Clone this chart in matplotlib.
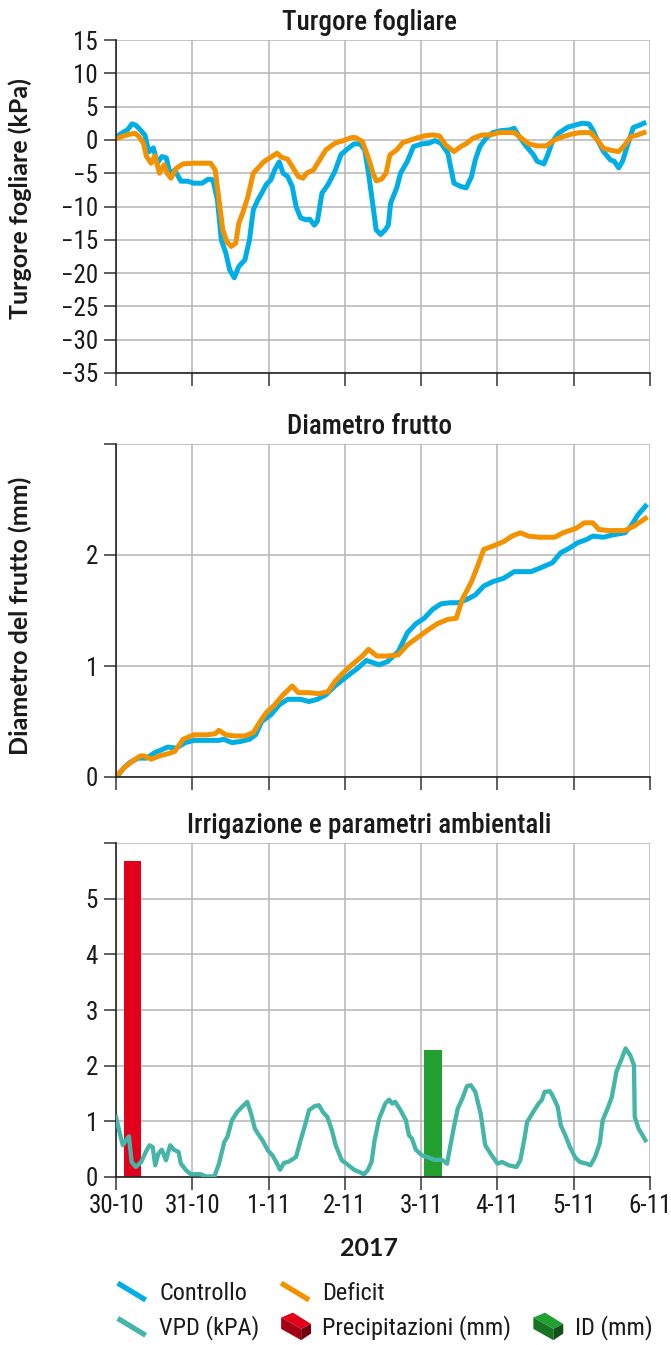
import os
import numpy as np
import matplotlib
matplotlib.use('Agg')
from matplotlib import pyplot as plt
from matplotlib import font_manager as fm
from matplotlib.lines import Line2D
from matplotlib.patches import Patch, Polygon
from matplotlib.legend_handler import HandlerBase

# ---- data (x in days from 30-10 00:00) ----
turg_ctrl_x = [0.01, 0.10, 0.15, 0.21, 0.26, 0.32, 0.38, 0.43, 0.49, 0.54,
               0.60, 0.66, 0.71, 0.77, 0.85, 0.94, 1.02, 1.13, 1.21, 1.27,
               1.33, 1.38, 1.44, 1.49, 1.55, 1.61, 1.69, 1.75, 1.80, 1.86,
               1.91, 1.97, 2.03, 2.08, 2.14, 2.19, 2.25, 2.31, 2.36, 2.42,
               2.49, 2.54, 2.60, 2.64, 2.70, 2.78, 2.87, 2.95, 3.03, 3.12,
               3.20, 3.26, 3.31, 3.37, 3.41, 3.47, 3.53, 3.57, 3.60, 3.68,
               3.73, 3.82, 3.90, 4.01, 4.10, 4.18, 4.26, 4.35, 4.43, 4.52,
               4.59, 4.66, 4.71, 4.77, 4.85, 4.94, 5.05, 5.16, 5.22, 5.30,
               5.38, 5.47, 5.52, 5.61, 5.66, 5.72, 5.80, 5.92, 6.03, 6.11,
               6.20, 6.25, 6.31, 6.39, 6.48, 6.53, 6.59, 6.64, 6.70, 6.78,
               6.87, 6.92]
turg_ctrl_y = [0.5, 1.2, 1.5, 2.4, 2.2, 1.5, 0.7, -1.8, -1.2, -3.5,
               -2.5, -2.7, -5.2, -4.5, -6.2, -6.2, -6.5, -6.5, -5.9, -6.0,
               -9.0, -15.0, -17.0, -19.5, -20.7, -19.0, -18.0, -15.0, -10.5, -9.0,
               -8.0, -6.7, -6.0, -4.5, -3.3, -5.0, -5.5, -7.0, -10.0, -11.7,
               -12.0, -11.9, -12.8, -12.2, -8.0, -6.7, -4.7, -2.2, -1.4, -0.6,
               -0.6, -1.5, -5.0, -10.0, -13.5, -14.2, -13.5, -12.8, -9.5, -7.2,
               -5.0, -3.2, -1.0, -0.6, -0.5, -0.1, -0.5, -2.0, -6.5, -7.0,
               -7.2, -5.5, -3.0, -1.0, 0.25, 1.1, 1.4, 1.5, 1.75, 0.25,
               -1.0, -2.2, -3.2, -3.6, -2.2, -0.25, 1.0, 1.9, 2.25, 2.5,
               2.4, 1.5, 0.0, -1.75, -3.0, -3.2, -4.2, -3.2, -1.0, 1.85,
               2.25, 2.5]
turg_def_x = [0.02, 0.10, 0.18, 0.25, 0.30, 0.36, 0.40, 0.46, 0.51, 0.57,
              0.63, 0.67, 0.72, 0.79, 0.88, 1.02, 1.13, 1.24, 1.30, 1.35,
              1.40, 1.45, 1.51, 1.57, 1.61, 1.66, 1.73, 1.80, 1.86, 1.94,
              2.03, 2.11, 2.17, 2.25, 2.31, 2.39, 2.45, 2.50, 2.59, 2.67,
              2.75, 2.87, 2.98, 3.09, 3.14, 3.23, 3.31, 3.37, 3.41, 3.48,
              3.54, 3.59, 3.68, 3.76, 3.87, 3.96, 4.04, 4.15, 4.24, 4.32,
              4.43, 4.52, 4.60, 4.68, 4.80, 4.91, 5.02, 5.22, 5.30, 5.41,
              5.52, 5.64, 5.75, 5.86, 5.97, 6.08, 6.22, 6.31, 6.39, 6.50,
              6.59, 6.67, 6.75, 6.84, 6.92]
turg_def_y = [0.25, 0.6, 0.85, 1.0, 0.5, -0.5, -2.5, -3.5, -2.4, -5.0,
              -3.75, -5.0, -5.75, -4.25, -3.6, -3.5, -3.5, -3.5, -4.5, -9.0,
              -13.5, -15.25, -16.0, -15.5, -12.5, -11.0, -8.5, -5.0, -4.25, -3.25,
              -2.6, -2.0, -2.6, -2.9, -4.0, -5.5, -5.75, -5.0, -4.5, -3.0,
              -1.5, -0.5, -0.1, 0.35, 0.35, -0.25, -2.75, -5.0, -6.15, -5.9,
              -5.0, -2.25, -1.5, -0.4, 0.0, 0.35, 0.6, 0.75, 0.6, -0.75,
              -1.75, -1.0, -0.5, 0.25, 0.75, 0.75, 1.1, 1.1, 0.4, -0.6,
              -0.9, -0.9, 0.0, 0.5, 0.85, 1.1, 1.1, 0.0, -1.25, -1.6,
              -1.75, -0.75, 0.5, 0.75, 1.1]

diam_ctrl_x = [0.01, 0.10, 0.18, 0.29, 0.40, 0.51, 0.68, 0.79, 0.91, 1.02,
               1.19, 1.35, 1.41, 1.52, 1.63, 1.75, 1.83, 1.91, 2.03, 2.14,
               2.25, 2.42, 2.53, 2.64, 2.75, 2.87, 2.98, 3.09, 3.17, 3.28,
               3.37, 3.45, 3.56, 3.70, 3.82, 3.93, 4.04, 4.15, 4.26, 4.38,
               4.49, 4.60, 4.71, 4.82, 4.94, 5.08, 5.22, 5.44, 5.55, 5.72,
               5.83, 5.94, 6.05, 6.17, 6.25, 6.39, 6.50, 6.67, 6.75, 6.84,
               6.94]
diam_ctrl_y = [0.0, 0.08, 0.13, 0.17, 0.17, 0.22, 0.27, 0.26, 0.31, 0.33,
               0.33, 0.33, 0.34, 0.31, 0.32, 0.34, 0.38, 0.50, 0.56, 0.65,
               0.70, 0.70, 0.68, 0.70, 0.74, 0.82, 0.88, 0.94, 0.98, 1.05,
               1.03, 1.01, 1.04, 1.13, 1.30, 1.38, 1.43, 1.51, 1.56, 1.57,
               1.57, 1.60, 1.64, 1.72, 1.76, 1.79, 1.85, 1.85, 1.88, 1.93,
               2.02, 2.06, 2.11, 2.14, 2.17, 2.16, 2.18, 2.20, 2.26, 2.36,
               2.44]
diam_def_x = [0.01, 0.10, 0.21, 0.32, 0.37, 0.46, 0.57, 0.68, 0.77, 0.88,
              1.02, 1.19, 1.30, 1.35, 1.44, 1.55, 1.69, 1.80, 1.89, 1.97,
              2.08, 2.19, 2.31, 2.39, 2.53, 2.67, 2.78, 2.87, 2.98, 3.09,
              3.23, 3.31, 3.42, 3.56, 3.70, 3.82, 3.96, 4.10, 4.21, 4.35,
              4.46, 4.54, 4.66, 4.74, 4.82, 4.94, 5.08, 5.19, 5.30, 5.41,
              5.55, 5.75, 5.86, 6.03, 6.14, 6.25, 6.33, 6.45, 6.67, 6.79,
              6.94]
diam_def_y = [0.01, 0.08, 0.14, 0.19, 0.19, 0.16, 0.19, 0.21, 0.23, 0.34,
              0.38, 0.38, 0.39, 0.42, 0.38, 0.37, 0.37, 0.40, 0.50, 0.58,
              0.65, 0.74, 0.82, 0.76, 0.76, 0.75, 0.77, 0.86, 0.94, 1.01,
              1.09, 1.15, 1.09, 1.09, 1.10, 1.19, 1.26, 1.33, 1.38, 1.42,
              1.43, 1.60, 1.76, 1.90, 2.05, 2.08, 2.12, 2.17, 2.20, 2.17,
              2.16, 2.16, 2.20, 2.24, 2.29, 2.29, 2.23, 2.22, 2.22, 2.26,
              2.33]

vpd_x = [0.0, 0.04, 0.09, 0.13, 0.17, 0.205, 0.26, 0.33, 0.39, 0.44,
         0.48, 0.515, 0.555, 0.60, 0.655, 0.71, 0.76, 0.82, 0.85, 0.92,
         0.98, 1.11, 1.18, 1.29, 1.35, 1.42, 1.46, 1.52, 1.59, 1.66,
         1.72, 1.77, 1.82, 1.86, 1.92, 1.99, 2.05, 2.10, 2.15, 2.20,
         2.27, 2.36, 2.42, 2.49, 2.53, 2.60, 2.66, 2.71, 2.77, 2.83,
         2.88, 2.96, 3.03, 3.12, 3.19, 3.25, 3.30, 3.35, 3.39, 3.45,
         3.53, 3.58, 3.62, 3.66, 3.73, 3.80, 3.84, 3.88, 3.93, 4.01,
         4.08, 4.17, 4.27, 4.34, 4.38, 4.43, 4.48, 4.54, 4.60, 4.65,
         4.71, 4.78, 4.84, 4.91, 5.00, 5.06, 5.15, 5.25, 5.30, 5.35,
         5.39, 5.47, 5.54, 5.58, 5.62, 5.69, 5.73, 5.79, 5.83, 5.89,
         5.95, 6.02, 6.08, 6.17, 6.22, 6.28, 6.34, 6.38, 6.45, 6.50,
         6.56, 6.63, 6.68, 6.74, 6.79, 6.80, 6.85, 6.89, 6.94]
vpd_y = [1.08, 0.84, 0.57, 0.66, 0.73, 0.27, 0.18, 0.27, 0.45, 0.57,
         0.54, 0.21, 0.42, 0.49, 0.30, 0.57, 0.49, 0.45, 0.24, 0.12,
         0.05, 0.05, 0.01, 0.01, 0.24, 0.63, 0.72, 1.02, 1.17, 1.27,
         1.35, 1.14, 0.87, 0.78, 0.66, 0.48, 0.39, 0.27, 0.13, 0.25,
         0.28, 0.36, 0.66, 0.99, 1.20, 1.27, 1.29, 1.17, 1.08, 0.84,
         0.57, 0.30, 0.23, 0.13, 0.09, 0.05, 0.12, 0.27, 0.66, 1.05,
         1.32, 1.39, 1.32, 1.35, 1.20, 1.02, 0.75, 0.69, 0.49, 0.39,
         0.36, 0.31, 0.31, 0.24, 0.54, 0.90, 1.23, 1.41, 1.63, 1.65,
         1.53, 1.14, 0.57, 0.42, 0.24, 0.27, 0.21, 0.18, 0.30, 0.66,
         0.99, 1.17, 1.32, 1.38, 1.53, 1.54, 1.44, 1.26, 0.93, 0.75,
         0.54, 0.35, 0.27, 0.24, 0.21, 0.36, 0.60, 1.02, 1.25, 1.44,
         1.89, 2.13, 2.31, 2.19, 2.01, 1.08, 0.87, 0.78, 0.66]

rain_x = [0.215]
rain_mm = [5.68]
id_x = [4.155]
id_mm = [2.28]

day_labels = ['30-10', '31-10', '1-11', '2-11', '3-11', '4-11', '5-11', '6-11']

C_CTRL = '#00aee6'
C_DEF = '#f39200'
C_VPD = '#45b5a8'
C_RAIN = '#e2001a'
C_ID = '#22a030'
TXT = '#1a1a1a'


def font_file(names):
    files = {}
    for f in fm.fontManager.ttflist:
        files[os.path.basename(f.fname).lower()] = f.fname
    for n in names:
        if n.lower() in files:
            return files[n.lower()]
    return None


reg_path = font_file(['RobotoCondensed-Regular.ttf', 'NotoSans-Condensed.ttf',
                      'LiberationSansNarrow-Regular.ttf', 'DejaVuSansCondensed.ttf'])
bold_path = font_file(['RobotoCondensed-Medium.ttf', 'RobotoCondensed-SemiBold.ttf',
                       'RobotoCondensed-Bold.ttf', 'NotoSans-CondensedSemiBold.ttf',
                       'LiberationSansNarrow-Bold.ttf', 'DejaVuSansCondensed-Bold.ttf'])


def narrow(size, bold=False):
    p = bold_path if bold else reg_path
    if p:
        return fm.FontProperties(fname=p, size=size)
    return fm.FontProperties(family='DejaVu Sans', size=size * 0.88,
                             weight='bold' if bold else 'normal')


TICK_FP = narrow(18)
TITLE_FP = narrow(19.5, bold=True)
LEG_FP = narrow(17.5)
LAB_FP = fm.FontProperties(family=['Lato', 'DejaVu Sans'], weight='bold', size=18)


class DiagLineHandler(HandlerBase):
    def create_artists(self, legend, orig_handle, xdescent, ydescent,
                       width, height, fontsize, trans):
        ln = Line2D([-xdescent, -xdescent + width],
                    [-ydescent + height * 0.95, -ydescent + height * 0.0],
                    color=orig_handle.get_color(), lw=3.8,
                    solid_capstyle='butt', transform=trans)
        return [ln]


class BoxHandler(HandlerBase):
    # small isometric block like the reference icons
    def create_artists(self, legend, orig_handle, xdescent, ydescent,
                       width, height, fontsize, trans):
        c = np.array(matplotlib.colors.to_rgb(orig_handle.get_facecolor()))
        w, h = width * 1.07, height * 1.55
        x0 = -xdescent
        y0 = -ydescent - 0.275 * height
        top = [(x0, y0 + 0.82 * h), (x0 + 0.39 * w, y0 + 1.0 * h),
               (x0 + w, y0 + 0.59 * h), (x0 + 0.67 * w, y0 + 0.41 * h)]
        left = [(x0, y0 + 0.82 * h), (x0 + 0.67 * w, y0 + 0.41 * h),
                (x0 + 0.67 * w, y0), (x0, y0 + 0.41 * h)]
        right = [(x0 + 0.67 * w, y0 + 0.41 * h), (x0 + w, y0 + 0.59 * h),
                 (x0 + w, y0 + 0.24 * h), (x0 + 0.67 * w, y0)]
        arts = []
        for pts, k in [(top, 1.0), (left, 0.72), (right, 0.5)]:
            arts.append(Polygon(pts, closed=True, facecolor=c * k,
                                edgecolor='none', transform=trans))
        return arts


class BlankHandler(HandlerBase):
    def create_artists(self, legend, orig_handle, xdescent, ydescent,
                       width, height, fontsize, trans):
        return [Line2D([], [], transform=trans, visible=False)]


def style_axes(ax, ymin, ymax, yticks, ylabels, title):
    ax.set_xlim(0, 7)
    ax.set_ylim(ymin, ymax)
    ax.set_xticks(range(8))
    ax.set_yticks(yticks)
    ax.set_yticklabels(ylabels, color=TXT)
    for t in ax.get_yticklabels():
        t.set_fontproperties(TICK_FP)
    ax.grid(True, color='#b5b5b5', lw=1.1)
    ax.set_axisbelow(True)
    for s in ['top', 'right']:
        ax.spines[s].set_visible(False)
    for s in ['left', 'bottom']:
        ax.spines[s].set_color('#222222')
        ax.spines[s].set_linewidth(1.2)
    ax.tick_params(axis='x', direction='out', length=9, width=1.1,
                   color='#333333')
    ax.tick_params(axis='y', direction='out', length=9, width=1.1,
                   color='#333333', pad=4)
    ax.set_title(title, fontproperties=TITLE_FP, x=0.474, pad=7, color=TXT)


fig = plt.figure(figsize=(6.71, 13.45), dpi=100)
L, W = 116 / 671, 534 / 671
ax1 = fig.add_axes([L, 1 - 373 / 1345, W, 333 / 1345])
ax2 = fig.add_axes([L, 1 - 777 / 1345, W, 333 / 1345])
ax3 = fig.add_axes([L, 1 - 1177 / 1345, W, 334 / 1345])

# turgore
ax1.plot(turg_ctrl_x, turg_ctrl_y, color=C_CTRL, lw=3.6, solid_joinstyle='round')
ax1.plot(turg_def_x, turg_def_y, color=C_DEF, lw=3.6, solid_joinstyle='round')
yt = list(range(-35, 16, 5))
style_axes(ax1, -35, 15, yt, ['\u2212%d' % -v if v < 0 else str(v) for v in yt],
           'Turgore fogliare')
ax1.set_xticklabels([])
ax1.set_ylabel('Turgore fogliare (kPa)', fontproperties=LAB_FP, color=TXT)
ax1.yaxis.set_label_coords(-0.157, 0.525)

# diametro
ax2.plot(diam_ctrl_x, diam_ctrl_y, color=C_CTRL, lw=3.6, solid_joinstyle='round')
ax2.plot(diam_def_x, diam_def_y, color=C_DEF, lw=3.6, solid_joinstyle='round')
style_axes(ax2, 0, 3, [0, 1, 2, 3], ['0', '1', '2', ''], 'Diametro frutto')
ax2.set_xticklabels([])
ax2.set_ylabel('Diametro del frutto (mm)', fontproperties=LAB_FP, color=TXT)
ax2.yaxis.set_label_coords(-0.157, 0.485)

# irrigazione
ax3.bar(rain_x, rain_mm, width=0.22, color=C_RAIN, zorder=2)
ax3.bar(id_x, id_mm, width=0.23, color=C_ID, zorder=2)
ax3.plot(vpd_x, vpd_y, color=C_VPD, lw=3.1, solid_joinstyle='round', zorder=3)
style_axes(ax3, 0, 6, range(7), ['0', '1', '2', '3', '4', '5', ''],
           'Irrigazione e parametri ambientali')
ax3.set_xticklabels(day_labels, color=TXT)
for t in ax3.get_xticklabels():
    t.set_fontproperties(TICK_FP)
ax3.tick_params(axis='x', pad=3)
ax3.set_xlabel('2017', fontproperties=LAB_FP, color=TXT)
ax3.xaxis.set_label_coords(0.474, -0.18)

# legend
h_ctrl = Line2D([], [], color=C_CTRL)
h_def = Line2D([], [], color=C_DEF)
h_vpd = Line2D([], [], color=C_VPD)
h_rain = Patch(facecolor=C_RAIN)
h_id = Patch(facecolor=C_ID)
h_blank = Patch(facecolor='none', edgecolor='none')
diag = DiagLineHandler()
box = BoxHandler()
leg = fig.legend([h_ctrl, h_vpd, h_def, h_rain, h_blank, h_id],
                 ['Controllo', 'VPD (kPA)', 'Deficit', 'Precipitazioni (mm)', '', 'ID (mm)'],
                 ncol=3, loc='center', bbox_to_anchor=(385 / 671, 1 - 1311 / 1345),
                 frameon=False, prop=LEG_FP,
                 handlelength=1.15, handleheight=0.75, handletextpad=0.55,
                 columnspacing=0.9, labelspacing=0.45,
                 handler_map={h_ctrl: diag, h_def: diag, h_vpd: diag,
                              h_rain: box, h_id: box, h_blank: BlankHandler()})
for t in leg.get_texts():
    t.set_color(TXT)

fig.savefig('out.png', dpi=100)
